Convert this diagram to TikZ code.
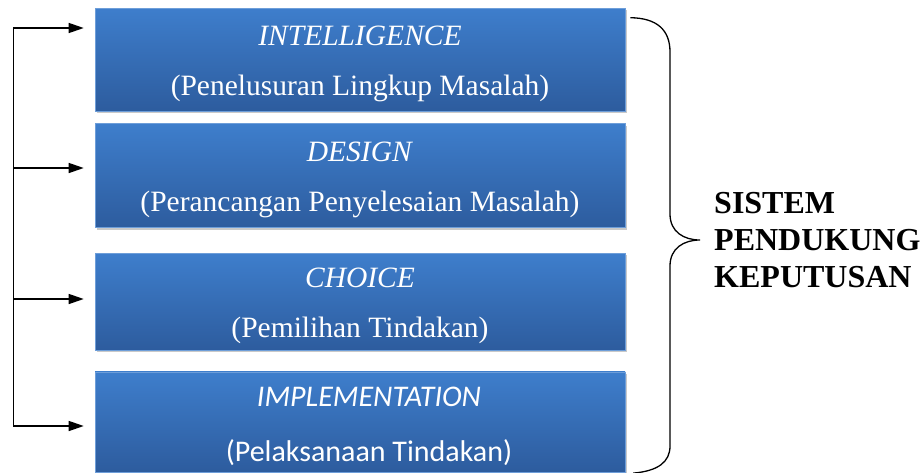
\documentclass[tikz,border=0pt]{standalone}
\usepackage{fontspec}
\setmainfont{Liberation Serif}
\newfontfamily\carlito{Carlito}
\usetikzlibrary{arrows.meta, positioning, shadows}

\definecolor{boxtop}{RGB}{62,126,204}
\definecolor{boxbot}{RGB}{45,92,158}

\tikzset{
  phase/.style={minimum width=530pt, inner sep=0pt, align=center, text=white,
    top color=boxtop, bottom color=boxbot, draw=boxtop!75!white, line width=0.6pt,
    drop shadow={shadow xshift=1.5pt, shadow yshift=-2pt, opacity=0.3, fill=black!70},
    font=\fontsize{29.5}{35}\selectfont},
  feed/.style={line width=1.4pt, -{Triangle[length=15pt,width=10pt]}},
  brace/.style={line width=1.3pt},
}
% taller first line pushes the text a little down in its box
\newcommand{\phasetitle}[1]{\rule{0pt}{28pt}\textit{#1}}

\begin{document}
\begin{tikzpicture}[x=1pt, y=-1pt]
  \useasboundingbox (0,0) rectangle (923,472);

  % the four phases
  \node[phase, minimum height=103pt] (intel) at (360,59.5)
    {\phasetitle{INTELLIGENCE}\\[15pt](Penelusuran Lingkup Masalah)};
  \node[phase, minimum height=104pt, below=12pt of intel] (design)
    {\phasetitle{DESIGN}\\[15pt](Perancangan Penyelesaian Masalah)};
  \node[phase, minimum height=97pt, below=25pt of design] (choice)
    {\phasetitle{CHOICE}\\[15pt](Pemilihan Tindakan)};
  \node[phase, minimum height=100pt, below=21pt of choice,
    font=\carlito\fontsize{30}{36}\selectfont] (impl)
    {\hspace*{18pt}\phasetitle{IMPLEMENTATION}\\[19pt]\hspace*{18pt}(Pelaksanaan Tindakan)};

  % feedback line on the left
  \foreach \y/\n in {28/intel, 168/design, 299/choice, 426/impl} {
    \coordinate (from-\n) at (13.5,\y);
    \draw[feed, shorten >=11pt] (from-\n) -- (from-\n -| \n.west);
  }
  \draw[line width=1.4pt, line cap=rect] (from-intel) -- (from-impl);

  % brace on the right
  \coordinate (brace-top) at ([xshift=5pt, yshift=-10pt]intel.north east);
  \coordinate (brace-bot) at ([xshift=8pt, yshift=-1pt]impl.south east);
  \coordinate (tip) at (700,240);
  \draw[brace] (brace-top) .. controls (657,18) and (670,30) .. (670,52)
    -- (670,214) .. controls (670,232) and (684,240) .. (tip)
    .. controls (684,240) and (670,248) .. (670,266)
    -- (670,446) .. controls (670,462) and (658,471) .. (brace-bot);

  \node[anchor=west, inner sep=0pt, align=left,
    font=\bfseries\fontsize{32}{37}\selectfont] (dss) at ([xshift=14pt]tip)
    {SISTEM\\PENDUKUNG\\KEPUTUSAN};
\end{tikzpicture}
\end{document}
